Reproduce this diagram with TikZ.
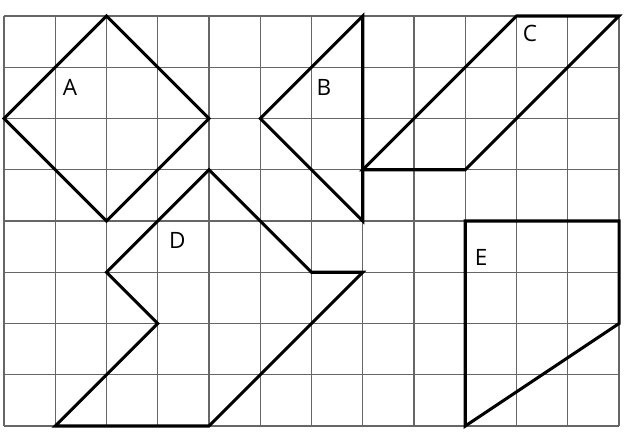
\documentclass[tikz,border=0pt]{standalone}
\usepackage{fontspec}
\setmainfont{Open Sans}
\begin{document}
\begin{tikzpicture}[x=1cm,y=1cm,
  gridline/.style={draw=black!60, line width=0.6pt},
  figline/.style={draw=black, line width=1.7pt, line join=miter},
  lbl/.style={font=\fontsize{12.5}{14}\selectfont, inner sep=0pt}]
\useasboundingbox (-0.078,-0.351) rectangle (12.37,8.312);
\draw[gridline] (0,0) grid (12,8);
% A
\draw[figline] (0,6) -- (2,8) -- (4,6) -- (2,4) -- cycle;
% B
\draw[figline] (5,6) -- (7,8) -- (7,4) -- cycle;
% C
\draw[figline] (7,5) -- (10,8) -- (12,8) -- (9,5) -- cycle;
% D
\draw[figline] (4,5) -- (6,3) -- (7,3) -- (4,0) -- (1,0) -- (3,2) -- (2,3) -- cycle;
% E
\draw[figline] (9,4) -- (12,4) -- (12,2) -- (9,0) -- cycle;
\node[lbl] (la) at (1.29,6.61) {A};
\node[lbl] (lb) at (6.24,6.61) {B};
\node[lbl] (lc) at (10.26,7.65) {C};
\node[lbl] (ld) at (3.38,3.63) {D};
\node[lbl] (le) at (9.31,3.28) {E};
\end{tikzpicture}
\end{document}
